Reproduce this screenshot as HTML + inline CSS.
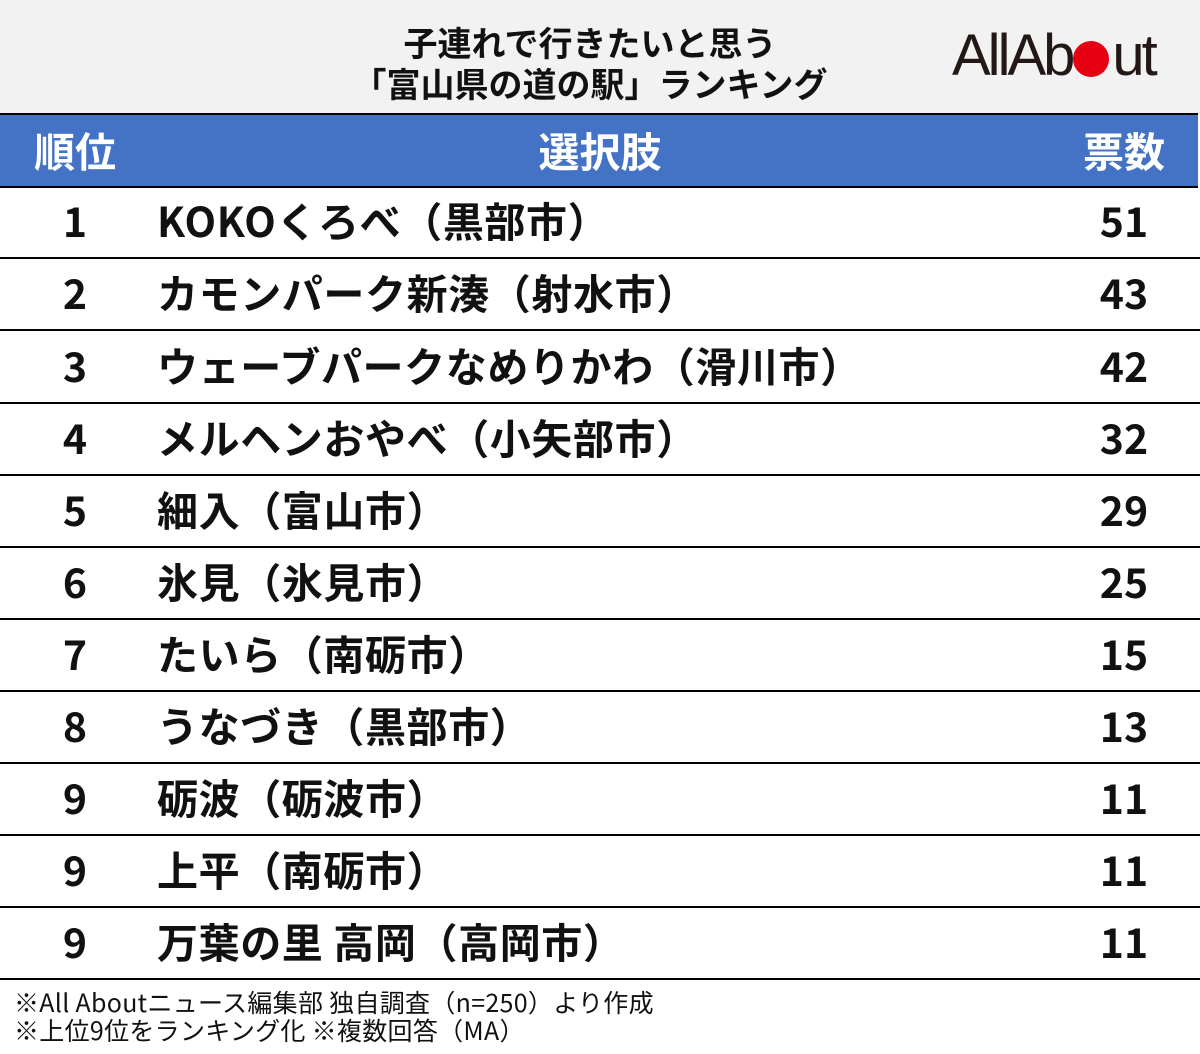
<!DOCTYPE html>
<html><head><meta charset="utf-8"><style>
body{margin:0;width:1200px;height:1054px;background:#fff;font-family:"Noto Sans CJK JP","Liberation Sans",sans-serif;position:relative;overflow:hidden}
.top{position:absolute;left:0;top:0;width:1200px;height:113px;background:#f2f2f2}
.title{position:absolute;left:240px;width:700px;top:21px;text-align:center;font-weight:bold;font-size:34px;line-height:41px;color:#111}
.logo{position:absolute;left:952px;top:24px;font-size:58px;letter-spacing:-3px;color:#231815;font-family:"Liberation Sans",sans-serif;line-height:64px}
.dot{display:inline-block;width:36px;height:36px;border-radius:50%;background:#e60012;vertical-align:-2px;margin:0 3px 0 1px}
.head{position:absolute;left:0;top:113px;width:1198px;height:71px;background:#4472c4;border-top:2px solid #000;border-bottom:2px solid #000;color:#fff;font-weight:bold;font-size:41px}
.head div,.row div{position:absolute;top:0;white-space:nowrap}
.row{position:absolute;left:0;width:1200px;height:71px;border-bottom:2px solid #000;font-weight:bold;font-size:41px;color:#111}
.r{left:15px;width:120px;text-align:center}
.n{left:157px;letter-spacing:0.6px}
.v{left:1064px;width:120px;text-align:center}
.foot{position:absolute;left:14px;top:988px;font-size:25px;letter-spacing:0.3px;line-height:28px;color:#111}
</style></head><body>
<div class="top"></div>
<div class="title">子連れで行きたいと思う<br>「富山県の道の駅」ランキング</div>
<div class="logo">AllAb<span class="dot"></span>ut</div>
<div class="head"><div class="r" style="line-height:68px">順位</div><div style="left:300px;width:600px;text-align:center;line-height:68px">選択肢</div><div class="v" style="line-height:68px">票数</div></div>
<div class="row" style="top:186px;line-height:66px"><div class="r">1</div><div class="n">KOKOくろべ（黒部市）</div><div class="v">51</div></div>
<div class="row" style="top:258px;line-height:66px"><div class="r">2</div><div class="n">カモンパーク新湊（射水市）</div><div class="v">43</div></div>
<div class="row" style="top:331px;line-height:66px"><div class="r">3</div><div class="n">ウェーブパークなめりかわ（滑川市）</div><div class="v">42</div></div>
<div class="row" style="top:403px;line-height:66px"><div class="r">4</div><div class="n">メルヘンおやべ（小矢部市）</div><div class="v">32</div></div>
<div class="row" style="top:475px;line-height:66px"><div class="r">5</div><div class="n">細入（富山市）</div><div class="v">29</div></div>
<div class="row" style="top:547px;line-height:66px"><div class="r">6</div><div class="n">氷見（氷見市）</div><div class="v">25</div></div>
<div class="row" style="top:619px;line-height:66px"><div class="r">7</div><div class="n">たいら（南砺市）</div><div class="v">15</div></div>
<div class="row" style="top:691px;line-height:66px"><div class="r">8</div><div class="n">うなづき（黒部市）</div><div class="v">13</div></div>
<div class="row" style="top:763px;line-height:66px"><div class="r">9</div><div class="n">砺波（砺波市）</div><div class="v">11</div></div>
<div class="row" style="top:835px;line-height:66px"><div class="r">9</div><div class="n">上平（南砺市）</div><div class="v">11</div></div>
<div class="row" style="top:907px;line-height:66px"><div class="r">9</div><div class="n">万葉の里 高岡（高岡市）</div><div class="v">11</div></div>
<div class="foot">※All Aboutニュース編集部 独自調査（n=250）より作成<br>※上位9位をランキング化 ※複数回答（MA）</div>
</body></html>
